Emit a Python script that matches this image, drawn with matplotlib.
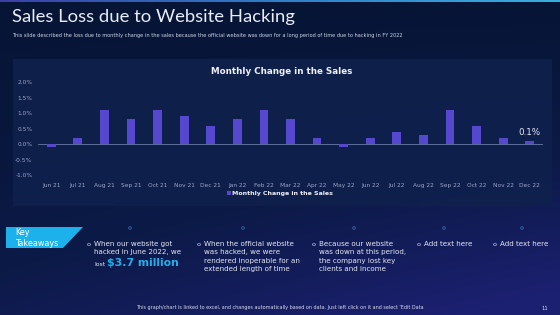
import numpy as np
import matplotlib
matplotlib.use("Agg")
import matplotlib.pyplot as plt
from matplotlib.patches import Rectangle, Polygon, Circle
from matplotlib.colors import LinearSegmentedColormap

months = ["Jun 21", "Jul 21", "Aug 21", "Sep 21", "Oct 21", "Nov 21", "Dec 21",
          "Jan 22", "Feb 22", "Mar 22", "Apr 22", "May 22", "Jun 22", "Jul 22",
          "Aug 22", "Sep 22", "Oct 22", "Nov 22", "Dec 22"]
change = [-0.1, 0.2, 1.1, 0.8, 1.1, 0.9, 0.6, 0.8, 1.1, 0.8, 0.2, -0.1, 0.2,
          0.4, 0.3, 1.1, 0.6, 0.2, 0.1]
yticks = [-1.0, -0.5, 0.0, 0.5, 1.0, 1.5, 2.0]
series_name = "Monthly Change in the Sales"

title = "Sales Loss due to Website Hacking"
subtitle = ("This slide described the loss due to monthly change in the sales because the official "
            "website was down for a long period of time due to hacking in FY 2022")
takeaways = [
    ["When our website got", "hacked in June 2022, we"],
    ["When the official website", "was hacked, we were", "rendered inoperable for an", "extended length of time"],
    ["Because our website", "was down at this period,", "the company lost key", "clients and income"],
    ["Add text here"],
    ["Add text here"],
]
highlight_prefix = "lost"
highlight = "$3.7 million"
footer = ("This graph/chart is linked to excel, and changes automatically based on data. "
          "Just left click on it and select 'Edit Data")

W, H = 560, 315
fig = plt.figure(figsize=(W / 100, H / 100), dpi=100)

def fx(px):
    return px / W

def fy(py):
    return 1 - py / H

# background
bg = fig.add_axes([0, 0, 1, 1])
bg.set_xlim(0, W)
bg.set_ylim(H, 0)
bg.axis("off")
xx, yy = np.meshgrid(np.linspace(0, 1, 200), np.linspace(0, 1, 120))
t = np.clip(0.6 * yy ** 1.3 + 0.5 * xx * yy, 0, 1)
cmap = LinearSegmentedColormap.from_list("bg", ["#061536", "#0c1a48", "#1c2070"])
bg.imshow(t, cmap=cmap, extent=[0, W, H, 0], aspect="auto", zorder=0, vmin=0, vmax=1)
# top strip
strip = np.linspace(0, 1, 200)[None, :]
bg.imshow(strip, cmap=LinearSegmentedColormap.from_list("st", ["#3b3fa8", "#2f7fc8", "#3aaee0"]),
          extent=[0, W, 2.2, 0], aspect="auto", zorder=1)

# title
bg.text(12, 17, title, fontsize=13.3, color="#e8ecf6", family="Lato", fontweight="normal",
        va="center", ha="left", zorder=3)
bg.text(12, 36, subtitle, fontsize=3.6, color="#d0d6e8", va="center", ha="left", zorder=3)

# chart panel
bg.add_patch(Rectangle((13, 59), 539, 147, facecolor="#10214d", edgecolor="none", alpha=0.85, zorder=2))
bg.text(282, 71, series_name, fontsize=6.3, fontweight="bold", color="#eef0f8",
        ha="center", va="center", zorder=3)

ax = fig.add_axes([fx(38), fy(175), fx(543) - fx(38), fy(82.3) - fy(175)])
ax.set_facecolor("none")
x = np.arange(len(months))
ax.bar(x, change, width=0.33, color="#5548cf", label=series_name, zorder=3)
ax.axhline(0, color="#6b7aa8", lw=0.6, zorder=2)
ax.set_xlim(-0.5, len(months) - 0.5)
ax.set_ylim(-1.0, 2.0)
ax.set_yticks(yticks)
ax.set_yticklabels([f"{v:.1f}%" for v in yticks])
ax.set_xticks(x)
ax.set_xticklabels(months)
ax.tick_params(axis="both", length=0, labelsize=4.2, labelcolor="#9aa4c8")
ax.tick_params(axis="x", pad=5.5)
ax.tick_params(axis="y", pad=4)
for s in ax.spines.values():
    s.set_visible(False)
ax.annotate(f"{change[-1]:.1f}%", (x[-1], change[-1]), xytext=(0, 3), textcoords="offset points",
            ha="center", va="bottom", fontsize=6.3, color="#e6e9f4")
leg = ax.legend(loc="center", bbox_to_anchor=(0.48, -0.2), frameon=False, fontsize=4.5,
                handlelength=0.5, handleheight=0.5, handletextpad=0.3)
for txt in leg.get_texts():
    txt.set_color("#eef0f8")
    txt.set_fontweight("bold")

# key takeaways box
bg.add_patch(Polygon([(6, 227), (83, 227), (63, 248), (6, 248)], closed=True,
                     facecolor="#1cb1ea", edgecolor="none", zorder=3))
bg.text(15, 232.5, "Key", fontsize=5.8, color="white", va="center", ha="left", zorder=4)
bg.text(15, 243, "Takeaways", fontsize=5.8, color="white", va="center", ha="left", zorder=4)

bullet_x = [87, 197, 312, 417, 493]
circle_x = [130, 243, 354, 444, 522]
for cxp in circle_x:
    bg.add_patch(Circle((cxp, 228), 1.3, facecolor="none", edgecolor="#3c78c0", lw=0.5, zorder=3))
for bx, lines in zip(bullet_x, takeaways):
    bg.text(bx, 244, "o", fontsize=4.6, color="#dfe4f2", va="center", ha="left", zorder=3)
    for i, line in enumerate(lines):
        bg.text(bx + 7, 244 + 8.3 * i, line, fontsize=5.1, color="#e4e8f4", va="center",
                ha="left", zorder=3)
bg.text(94, 266, highlight_prefix, fontsize=4.4, color="#e4e8f4", va="baseline", ha="left", zorder=3)
bg.text(107, 266.5, highlight, fontsize=7.8, fontweight="bold", color="#22aee8",
        va="baseline", ha="left", zorder=3)

bg.text(280, 308, footer, fontsize=3.5, color="#d8dcec", ha="center", va="center", zorder=3)
bg.text(545, 308, "11", fontsize=3.8, color="#d8dcec", ha="center", va="center", zorder=3)

fig.savefig("out.png", dpi=100)
